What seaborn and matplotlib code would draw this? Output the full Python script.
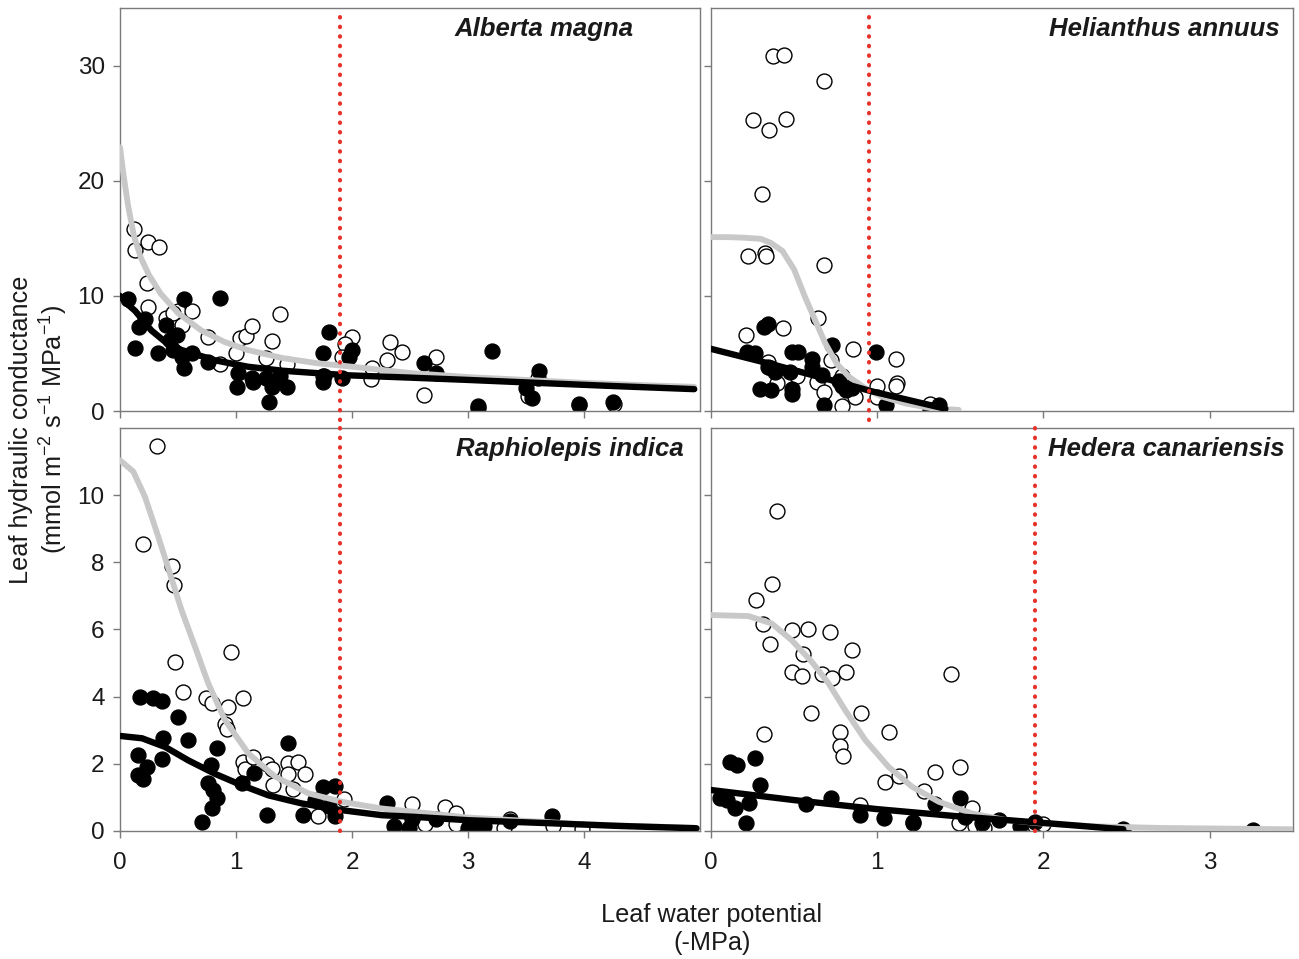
import matplotlib
matplotlib.use("Agg")
import matplotlib.pyplot as plt
import seaborn as sns
import pandas as pd

# ---------------- data ----------------
SPECIES = ["Alberta magna", "Helianthus annuus", "Raphiolepis indica", "Hedera canariensis"]
THRESHOLDS = [1.9, 0.95, 1.9, 1.95]

ALBERTA_OPEN_X = [0.12, 0.13, 0.245, 0.34, 0.23, 0.245, 0.40, 0.50, 0.62, 0.53, 0.756, 0.865, 1.0, 1.035,
                  1.09, 1.14, 1.31, 1.38, 1.26, 1.44, 2.0, 1.94, 1.91, 2.16, 2.33, 2.43, 2.30, 2.17, 2.72,
                  2.62, 3.52, 3.09, 3.96, 4.26, 0.46, 1.75, 3.6]
ALBERTA_OPEN_Y = [15.8, 14.0, 14.7, 14.2, 11.1, 9.0, 8.1, 8.7, 8.7, 7.45, 6.4, 4.05, 5.0, 6.3,
                  6.5, 7.4, 6.1, 8.4, 4.6, 4.05, 6.4, 5.8, 4.7, 2.8, 6.0, 5.1, 4.4, 3.7, 4.65,
                  1.39, 1.3, 0.25, 0.5, 0.6, 8.5, 3.0, 2.9]
ALBERTA_FILLED_X = [0.07, 0.215, 0.16, 0.13, 0.33, 0.40, 0.49, 0.55, 0.86, 0.46, 0.53, 0.55, 0.62, 0.755,
                    1.02, 1.01, 1.135, 1.28, 1.26, 1.31, 1.38, 1.44, 1.80, 1.75, 1.75, 1.76, 1.91, 2.0,
                    1.97, 2.62, 2.72, 3.21, 3.09, 3.61, 3.5, 3.55, 3.96, 4.25, 0.43, 1.15]
ALBERTA_FILLED_Y = [9.7, 8.0, 7.3, 5.45, 5.0, 7.5, 6.6, 9.7, 9.85, 5.3, 4.7, 3.7, 5.0, 4.3,
                    3.3, 2.05, 2.85, 0.8, 2.85, 2.1, 3.0, 2.1, 6.9, 5.0, 2.55, 3.0, 2.85, 5.3,
                    4.7, 4.2, 3.3, 5.25, 0.45, 3.5, 2.0, 1.15, 0.65, 0.8, 6.2, 2.5]
ALBERTA_GRAY_X = [0, 0.03, 0.07, 0.12, 0.18, 0.25, 0.35, 0.5, 0.7, 0.9, 1.1, 1.4, 1.7, 2.0, 2.5, 3.0,
                  3.5, 4.0, 4.5, 4.95]
ALBERTA_GRAY_Y = [22.9, 20.5, 17.8, 15.2, 13.3, 11.8, 10.2, 8.5, 7.0, 6.0, 5.3, 4.6, 4.15, 3.85, 3.3,
                  2.95, 2.7, 2.45, 2.25, 2.1]
ALBERTA_BLACK_X = [0, 0.05, 0.13, 0.27, 0.39, 0.53, 0.82, 1.1, 1.4, 1.97, 2.5, 3.0, 3.7, 4.3, 4.95]
ALBERTA_BLACK_Y = [10.0, 9.4, 8.7, 7.0, 6.0, 5.3, 4.4, 3.85, 3.5, 3.1, 2.9, 2.7, 2.4, 2.15, 1.9]

HELIANTHUS_OPEN_X = [0.375, 0.44, 0.677, 0.255, 0.45, 0.35, 0.305, 0.22, 0.325, 0.33, 0.677, 0.21,
                     0.435, 0.646, 0.853, 1.11, 1.12, 1.11, 1.0, 0.72, 0.345, 0.36, 0.396, 0.516,
                     0.637, 0.677, 0.787, 0.867, 0.79, 1.32, 1.0]
HELIANTHUS_OPEN_Y = [30.8, 30.9, 28.7, 25.3, 25.4, 24.4, 18.85, 13.45, 13.7, 13.5, 12.7, 6.6,
                     7.2, 8.1, 5.35, 4.55, 2.4, 2.15, 2.2, 4.4, 4.3, 3.7, 2.4, 3.0,
                     2.5, 1.65, 0.4, 1.25, 3.0, 0.65, 1.25]
HELIANTHUS_FILLED_X = [0.345, 0.32, 0.215, 0.265, 0.486, 0.526, 0.61, 0.727, 0.99, 0.345, 0.387,
                       0.476, 0.607, 0.667, 0.295, 0.36, 0.486, 0.49, 0.787, 0.81, 0.677, 1.05,
                       1.32, 1.37, 0.85, 0.77]
HELIANTHUS_FILLED_Y = [7.6, 7.3, 5.15, 5.0, 5.15, 5.15, 4.55, 5.7, 5.15, 3.85, 3.4,
                       3.4, 3.85, 3.1, 1.9, 1.8, 1.95, 1.5, 2.2, 1.8, 0.5, 0.5,
                       0.1, 0.5, 2.0, 2.6]
HELIANTHUS_GRAY_X = [0, 0.1, 0.2, 0.3, 0.36, 0.43, 0.5, 0.566, 0.626, 0.687, 0.757, 0.83, 0.93, 1.03,
                     1.17, 1.33, 1.49]
HELIANTHUS_GRAY_Y = [15.1, 15.1, 15.05, 14.95, 14.6, 13.9, 12.3, 9.9, 7.9, 5.9, 4.1, 2.97, 1.96, 1.24,
                     0.66, 0.23, 0.1]
HELIANTHUS_BLACK_X = [0, 0.37, 0.77, 0.97, 1.41]
HELIANTHUS_BLACK_Y = [5.4, 4.05, 2.5, 1.7, 0.2]

RAPHIOLEPIS_OPEN_X = [0.316, 0.2, 0.445, 0.466, 0.474, 0.954, 0.546, 0.74, 0.79, 0.934, 1.063, 0.905,
                      0.92, 1.06, 1.08, 1.15, 1.264, 1.31, 1.32, 1.45, 1.537, 1.45, 1.595, 1.494,
                      1.71, 2.52, 2.63, 2.8, 2.9, 2.9, 3.31, 3.36, 3.73, 3.98, 1.93]
RAPHIOLEPIS_OPEN_Y = [11.46, 8.56, 7.89, 7.32, 5.02, 5.32, 4.15, 3.95, 3.8, 3.68, 3.97, 3.2,
                      3.03, 2.04, 1.86, 2.2, 2.0, 1.86, 1.37, 2.03, 2.05, 1.7, 1.7, 1.24,
                      0.45, 0.79, 0.2, 0.71, 0.54, 0.2, 0.1, 0.35, 0.15, 0.05, 0.94]
RAPHIOLEPIS_FILLED_X = [0.172, 0.287, 0.36, 0.503, 0.367, 0.583, 0.833, 0.152, 0.23, 0.158, 0.2, 0.36,
                        0.785, 0.756, 0.805, 0.84, 0.79, 0.71, 1.05, 1.158, 1.264, 1.445, 1.58,
                        1.753, 1.853, 1.8, 1.853, 1.68, 2.3, 2.36, 2.49, 2.52, 2.72, 3.0, 3.07,
                        3.14, 3.36, 3.72]
RAPHIOLEPIS_FILLED_Y = [3.98, 3.95, 3.88, 3.38, 2.76, 2.71, 2.48, 2.26, 1.9, 1.67, 1.54, 2.13,
                        1.96, 1.42, 1.22, 0.97, 0.67, 0.28, 1.42, 1.72, 0.48, 2.63, 0.48,
                        1.3, 1.34, 0.75, 0.46, 0.92, 0.84, 0.15, 0.08, 0.35, 0.35, 0.1, 0.15,
                        0.15, 0.3, 0.46]
RAPHIOLEPIS_GRAY_X = [0, 0.115, 0.215, 0.33, 0.43, 0.53, 0.646, 0.76, 0.905, 1.106, 1.336, 1.624, 1.91,
                      2.256, 2.54, 3.0, 3.5, 4.0, 4.5, 4.95]
RAPHIOLEPIS_GRAY_Y = [11.04, 10.7, 9.95, 8.76, 7.67, 6.58, 5.49, 4.4, 3.3, 2.31, 1.62, 1.12, 0.87,
                      0.67, 0.57, 0.4, 0.3, 0.2, 0.14, 0.1]
RAPHIOLEPIS_BLACK_X = [0, 0.19, 0.39, 0.59, 0.82, 1.05, 1.28, 1.566, 1.91, 2.256, 2.54, 3.0, 3.71, 4.3,
                       4.97]
RAPHIOLEPIS_BLACK_Y = [2.83, 2.76, 2.5, 2.1, 1.7, 1.36, 1.06, 0.82, 0.62, 0.47, 0.42, 0.32, 0.23, 0.15,
                       0.08]

HEDERA_OPEN_X = [0.396, 0.365, 0.271, 0.315, 0.355, 0.486, 0.582, 0.717, 0.847, 0.552, 0.49, 0.546,
                 0.67, 0.727, 0.811, 1.446, 0.602, 0.904, 0.321, 0.777, 0.777, 0.793, 1.068, 1.044,
                 1.133, 1.345, 1.496, 1.283, 1.213, 1.494, 1.57, 1.59, 1.64, 1.95, 2.0, 0.897]
HEDERA_OPEN_Y = [9.53, 7.34, 6.875, 6.15, 5.57, 5.98, 6.0, 5.94, 5.39, 5.27, 4.74, 4.62,
                 4.67, 4.55, 4.74, 4.66, 3.52, 3.5, 2.9, 2.96, 2.54, 2.24, 2.96, 1.47,
                 1.64, 1.77, 1.9, 1.19, 0.23, 0.23, 0.67, 0.15, 0.1, 0.15, 0.2, 0.77]
HEDERA_FILLED_X = [0.114, 0.155, 0.265, 0.295, 0.054, 0.094, 0.145, 0.231, 0.209, 0.572, 0.723, 0.898,
                   1.042, 1.213, 1.345, 1.5, 1.53, 1.63, 1.73, 1.86, 1.95, 2.48, 3.26]
HEDERA_FILLED_Y = [2.06, 1.96, 2.16, 1.37, 0.97, 0.92, 0.67, 0.82, 0.23, 0.79, 0.97, 0.48,
                   0.38, 0.28, 0.79, 0.97, 0.43, 0.23, 0.33, 0.14, 0.28, 0.07, 0.04]
HEDERA_GRAY_X = [0, 0.225, 0.365, 0.486, 0.606, 0.707, 0.807, 0.928, 1.068, 1.209, 1.37, 1.57, 1.77,
                 1.97, 2.3, 2.7, 3.1, 3.5]
HEDERA_GRAY_Y = [6.43, 6.4, 6.18, 5.68, 5.04, 4.4, 3.6, 2.71, 1.91, 1.32, 0.87, 0.52, 0.33,
                 0.23, 0.14, 0.09, 0.07, 0.05]
HEDERA_BLACK_X = [0, 0.5, 1.0, 1.5, 2.0, 2.48]
HEDERA_BLACK_Y = [1.22, 0.92, 0.65, 0.43, 0.24, 0.05]

TOP_YTICKS = [0, 10, 20, 30]
BOTTOM_YTICKS = [0, 2, 4, 6, 8, 10]
LEFT_XTICKS = [0, 1, 2, 3, 4]
RIGHT_XTICKS = [0, 1, 2, 3]

# ---------------- style ----------------
sns.set_style("ticks")
plt.rcParams["font.family"] = ["Liberation Sans", "DejaVu Sans"]
plt.rcParams["mathtext.fontset"] = "custom"
plt.rcParams["mathtext.rm"] = "Liberation Sans"
plt.rcParams["mathtext.it"] = "Liberation Sans:italic"
plt.rcParams["mathtext.bf"] = "Liberation Sans:bold"

GRAY_LINE = "#c8c8c8"
RED = "#e6322a"
FRAME = "#7a7a7a"
TEXT = "#1a1a1a"

fig = plt.figure(figsize=(12.99, 9.59), dpi=100)

panels = [
    dict(name=SPECIES[0], thr=THRESHOLDS[0], pos=[0.0924, 0.5714, 0.4465, 0.4203],
         ox=ALBERTA_OPEN_X, oy=ALBERTA_OPEN_Y, fx=ALBERTA_FILLED_X, fy=ALBERTA_FILLED_Y,
         gx=ALBERTA_GRAY_X, gy=ALBERTA_GRAY_Y, bx=ALBERTA_BLACK_X, by=ALBERTA_BLACK_Y,
         xlim=(0, 5), ylim=(0, 35), xt=LEFT_XTICKS, yt=TOP_YTICKS, top=True, left=True, tx=0.886),
    dict(name=SPECIES[1], thr=THRESHOLDS[1], pos=[0.5473, 0.5714, 0.448, 0.4203],
         ox=HELIANTHUS_OPEN_X, oy=HELIANTHUS_OPEN_Y, fx=HELIANTHUS_FILLED_X, fy=HELIANTHUS_FILLED_Y,
         gx=HELIANTHUS_GRAY_X, gy=HELIANTHUS_GRAY_Y, bx=HELIANTHUS_BLACK_X, by=HELIANTHUS_BLACK_Y,
         xlim=(0, 3.5), ylim=(0, 35), xt=RIGHT_XTICKS, yt=TOP_YTICKS, top=True, left=False, tx=0.978),
    dict(name=SPECIES[2], thr=THRESHOLDS[2], pos=[0.0924, 0.1335, 0.4465, 0.4202],
         ox=RAPHIOLEPIS_OPEN_X, oy=RAPHIOLEPIS_OPEN_Y, fx=RAPHIOLEPIS_FILLED_X, fy=RAPHIOLEPIS_FILLED_Y,
         gx=RAPHIOLEPIS_GRAY_X, gy=RAPHIOLEPIS_GRAY_Y, bx=RAPHIOLEPIS_BLACK_X, by=RAPHIOLEPIS_BLACK_Y,
         xlim=(0, 5), ylim=(0, 12), xt=LEFT_XTICKS, yt=BOTTOM_YTICKS, top=False, left=True, tx=0.972),
    dict(name=SPECIES[3], thr=THRESHOLDS[3], pos=[0.5473, 0.1335, 0.448, 0.4202],
         ox=HEDERA_OPEN_X, oy=HEDERA_OPEN_Y, fx=HEDERA_FILLED_X, fy=HEDERA_FILLED_Y,
         gx=HEDERA_GRAY_X, gy=HEDERA_GRAY_Y, bx=HEDERA_BLACK_X, by=HEDERA_BLACK_Y,
         xlim=(0, 3.5), ylim=(0, 12), xt=RIGHT_XTICKS, yt=BOTTOM_YTICKS, top=False, left=False, tx=0.986),
]

for p in panels:
    ax = fig.add_axes(p["pos"])
    open_df = pd.DataFrame({"x": p["ox"], "y": p["oy"]})
    filled_df = pd.DataFrame({"x": p["fx"], "y": p["fy"]})
    gray_df = pd.DataFrame({"x": p["gx"], "y": p["gy"]})
    black_df = pd.DataFrame({"x": p["bx"], "y": p["by"]})

    sns.scatterplot(data=open_df, x="x", y="y", ax=ax, s=115, color="white",
                    edgecolor="black", linewidth=1.0, legend=False, zorder=2)
    sns.scatterplot(data=filled_df, x="x", y="y", ax=ax, s=115, color="black",
                    edgecolor="black", linewidth=1.0, legend=False, zorder=2)
    sns.lineplot(data=gray_df, x="x", y="y", ax=ax, color=GRAY_LINE, linewidth=4.2,
                 sort=False, solid_capstyle="round", zorder=3)
    sns.lineplot(data=black_df, x="x", y="y", ax=ax, color="black", linewidth=4.6,
                 sort=False, solid_capstyle="round", zorder=4)

    ax.axvline(p["thr"], ymin=(-0.022 if p["top"] else 0.0), ymax=1.0, color=RED, lw=3,
               linestyle=(0, (0.1, 2.2)), dash_capstyle="round", clip_on=False, zorder=5)

    ax.set_xlim(*p["xlim"])
    ax.set_ylim(*p["ylim"])
    ax.set_xticks(p["xt"])
    ax.set_yticks(p["yt"])
    ax.set_xlabel("")
    ax.set_ylabel("")
    for s in ax.spines.values():
        s.set_visible(True)
        s.set_color(FRAME)
        s.set_linewidth(1.0)
    ax.tick_params(direction="out", length=5, width=1, color=FRAME, labelsize=17.5,
                   labelcolor=TEXT, pad=6)
    ax.tick_params(axis="x", pad=10)
    if p["top"]:
        ax.tick_params(labelbottom=False)
    if not p["left"]:
        ax.tick_params(labelleft=False)

    ax.text(p["tx"], 0.948, p["name"], transform=ax.transAxes, ha="right", va="center",
            fontsize=18.5, fontweight="bold", fontstyle="italic", color=TEXT, zorder=6)

fig.text(21 / 1299, 0.552, "Leaf hydraulic conductance", rotation=90, ha="center", va="center",
         fontsize=18.2, color=TEXT)
fig.text(54 / 1299, 0.552, r"(mmol m$^{-2}$ s$^{-1}$ MPa$^{-1}$)", rotation=90, ha="center",
         va="center", fontsize=18.2, color=TEXT)
fig.text(712 / 1299, 0.031, "Leaf water potential\n(-MPa)", ha="center", va="center",
         fontsize=18.2, color=TEXT, linespacing=1.2)

fig.savefig("out.png", dpi=100)
